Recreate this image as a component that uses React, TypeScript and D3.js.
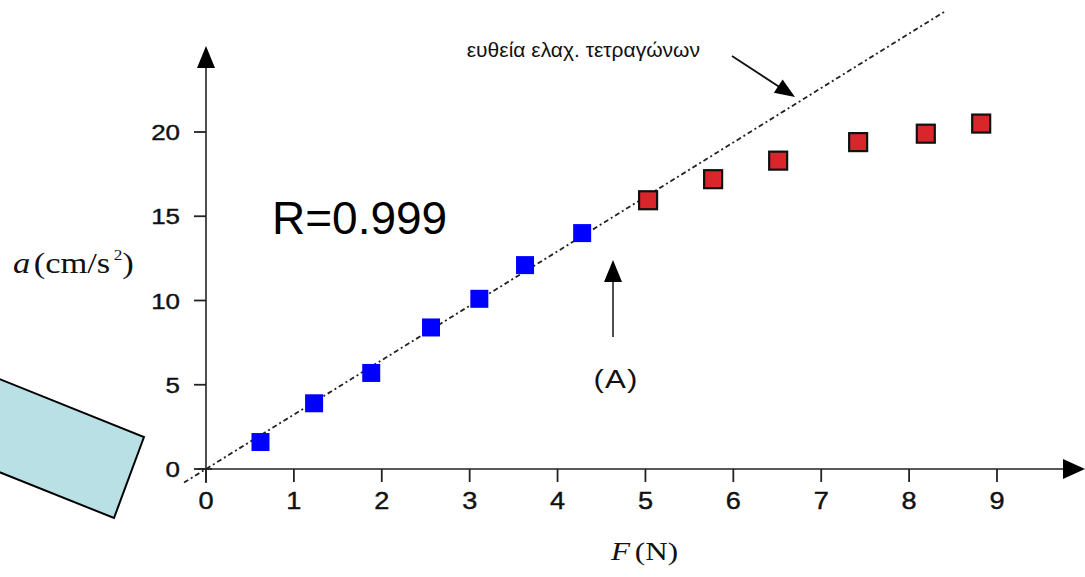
import React from "react";
import * as d3 from "d3";

// Force F (N) and acceleration a (cm/s^2) measurements
const F_LINEAR = [0.62, 1.23, 1.88, 2.56, 3.11, 3.63, 4.28];
const A_LINEAR = [1.6, 3.9, 5.7, 8.4, 10.1, 12.1, 14.0];
const F_SAT = [5.03, 5.77, 6.51, 7.42, 8.19, 8.82];
const A_SAT = [15.95, 17.2, 18.3, 19.4, 19.9, 20.5];

const X_TICKS = [0, 1, 2, 3, 4, 5, 6, 7, 8, 9];
const Y_TICKS = [0, 5, 10, 15, 20];

// least-squares line a = slope * F + intercept
const FIT_SLOPE = 3.23;
const FIT_INTERCEPT = 0;
const FIT_RANGE = [-0.25, 8.42];

const R_LABEL = "R=0.999";
const FIT_LABEL = "ευθεία ελαχ. τετραγώνων";
const POINT_LABEL = "(A)";

const W = 1085;
const H = 577;

const SANS = "'Liberation Sans', Arial, sans-serif";
const SERIF = "'Liberation Serif', 'Times New Roman', serif";

export default function App() {
  const x = d3.scaleLinear().domain([0, 9]).range([206, 997]);
  const y = d3.scaleLinear().domain([0, 20]).range([469, 132]);

  const fitLine = d3
    .line<number>()
    .x((f) => x(f))
    .y((f) => y(FIT_SLOPE * f + FIT_INTERCEPT));

  const x0 = x(0);
  const y0 = y(0);
  const blueSize = 18;
  const redSize = 18;

  // light-blue tilted box on the left
  const boxTR: [number, number] = [144, 437];
  const boxBR: [number, number] = [114, 518];
  const dir = [0.928, 0.372];
  const L = 320;
  const boxPts = [
    boxTR,
    boxBR,
    [boxBR[0] - L * dir[0], boxBR[1] - L * dir[1]],
    [boxTR[0] - L * dir[0], boxTR[1] - L * dir[1]],
  ]
    .map((p) => p.join(","))
    .join(" ");

  const arrowHead = (tx: number, ty: number, angle: number, len: number, half: number) => {
    const c = Math.cos(angle);
    const s = Math.sin(angle);
    const bx = tx - len * c;
    const by = ty - len * s;
    return `${tx},${ty} ${bx - half * s},${by + half * c} ${bx + half * s},${by - half * c}`;
  };

  const annAngle = Math.atan2(97 - 56, 795 - 732);

  return (
    <svg
      width={W}
      height={H}
      viewBox={`0 0 ${W} ${H}`}
      style={{ position: "absolute", left: 0, top: 0, background: "#fff" }}
    >
      <rect x={0} y={0} width={W} height={H} fill="#fff" />

      <polygon points={boxPts} fill="#b9e0e4" stroke="#000" strokeWidth={2} />

      {/* axes */}
      <line x1={x0} y1={483} x2={x0} y2={62} stroke="#222" strokeWidth={1.6} />
      <polygon points={arrowHead(x0, 46, -Math.PI / 2, 22, 9)} fill="#000" />
      <line x1={198} y1={y0} x2={1070} y2={y0} stroke="#222" strokeWidth={1.6} />
      <polygon points={arrowHead(1085, y0, 0, 22, 10)} fill="#000" />

      {/* y ticks */}
      {Y_TICKS.map((t) => (
        <g key={`y${t}`}>
          <line x1={x0 - 12} x2={x0 + (t === 0 ? 6 : 0)} y1={y(t)} y2={y(t)} stroke="#222" strokeWidth={1.8} />
          <text
            transform={`translate(${180},${y(t) + 8}) scale(1.18,1)`}
            textAnchor="end"
            fontFamily={SANS}
            fontSize={22}
            fill="#111"
            stroke="#111"
            strokeWidth={0.4}
          >
            {t}
          </text>
        </g>
      ))}

      {/* x ticks */}
      {X_TICKS.map((t) => (
        <g key={`x${t}`}>
          <line x1={x(t)} x2={x(t)} y1={y0} y2={y0 + 13} stroke="#222" strokeWidth={1.8} />
          <text
            transform={`translate(${x(t)},${509}) scale(1.18,1)`}
            textAnchor="middle"
            fontFamily={SANS}
            fontSize={23}
            fill="#111"
            stroke="#111"
            strokeWidth={0.4}
          >
            {t}
          </text>
        </g>
      ))}

      {/* axis titles */}
      <text transform="translate(13,273) scale(1.15,1)" fontFamily={SERIF} fontSize={30} fill="#111">
        <tspan fontStyle="italic">a</tspan>
        <tspan dx={3}>(cm/s</tspan>
        <tspan fontSize={15} dx={3} dy={-13}>2</tspan>
        <tspan dy={13}>)</tspan>
      </text>
      <text transform="translate(611,560) scale(1.2,1)" fontFamily={SERIF} fontSize={26} fill="#111">
        <tspan fontStyle="italic">F</tspan>
        <tspan dx={4}>(N)</tspan>
      </text>

      {/* least-squares line */}
      <path
        d={fitLine(FIT_RANGE) ?? ""}
        fill="none"
        stroke="#222"
        strokeWidth={1.8}
        strokeDasharray="5,3,2,3"
      />

      {/* measurements */}
      {F_LINEAR.map((f, i) => (
        <rect
          key={`b${i}`}
          x={x(f) - blueSize / 2}
          y={y(A_LINEAR[i]) - blueSize / 2}
          width={blueSize}
          height={blueSize}
          fill="#0000ff"
        />
      ))}
      {F_SAT.map((f, i) => (
        <rect
          key={`r${i}`}
          x={x(f) - redSize / 2}
          y={y(A_SAT[i]) - redSize / 2}
          width={redSize}
          height={redSize}
          fill="#d8262b"
          stroke="#111"
          strokeWidth={2.2}
        />
      ))}

      {/* annotations */}
      <text x={272} y={234} fontFamily={SANS} fontSize={46} fill="#000">
        {R_LABEL}
      </text>

      <text x={700} y={57} textAnchor="end" fontFamily={SANS} fontSize={21} fill="#111">
        {FIT_LABEL}
      </text>
      <line x1={732} y1={56} x2={781} y2={88} stroke="#111" strokeWidth={1.8} />
      <polygon points={arrowHead(795, 97, annAngle, 20, 8)} fill="#000" />

      <line x1={613} y1={337} x2={613} y2={276} stroke="#222" strokeWidth={1.6} />
      <polygon points={arrowHead(613, 260, -Math.PI / 2, 22, 9)} fill="#000" />
      <text transform="translate(616,388) scale(1.2,1)" textAnchor="middle" fontFamily={SANS} fontSize={26} fill="#111" letterSpacing={1}>
        {POINT_LABEL}
      </text>
    </svg>
  );
}
